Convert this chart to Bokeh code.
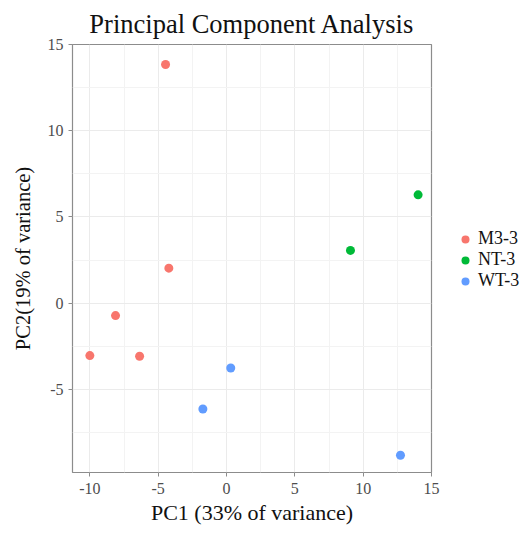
from bokeh.plotting import figure
from bokeh.layouts import row
from bokeh.models import Range1d, FixedTicker, Legend, LegendItem, ColumnDataSource
from bokeh.embed import file_html
from bokeh.resources import INLINE

# ---- data ----
groups = ["M3-3", "NT-3", "WT-3"]
colors = ["#F8766D", "#00BA38", "#619CFF"]
m3_pc1 = [-4.46, -4.22, -8.12, -10.0, -6.36]
m3_pc2 = [13.84, 2.03, -0.72, -3.04, -3.08]
nt_pc1 = [14.02, 9.07]
nt_pc2 = [6.28, 3.06]
wt_pc1 = [0.31, -1.73, 12.73]
wt_pc2 = [-3.76, -6.14, -8.82]
x_ticks = [-10, -5, 0, 5, 10, 15]
x_tick_labels = ["-10", "-5", "0", "5", "10", "15"]
x_minor = [-7.5, -2.5, 2.5, 7.5, 12.5]
y_ticks = [-5, 0, 5, 10, 15]
y_tick_labels = ["-5", "0", "5", "10", "15"]
y_minor = [-7.5, -2.5, 2.5, 7.5, 12.5]
title_text = "Principal Component Analysis"
x_label = "PC1 (33% of variance)"
y_label = "PC2(19% of variance)"

FONT = "Liberation Serif"
MAIN_W = 445
H = 533

p = figure(width=MAIN_W, height=H, output_backend="svg", toolbar_location=None,
           x_range=Range1d(-11.27, 15.0), y_range=Range1d(-9.82, 15.0),
           min_border_left=72, min_border_right=MAIN_W - 431, min_border_top=44,
           min_border_bottom=61, title=title_text)
p.title.text_font = FONT
p.title.text_font_size = "26.5px"
p.title.text_font_style = "normal"
p.title.align = "center"
p.title.text_color = "#111111"
p.title.standoff = 12

p.outline_line_color = "#8c8c8c"
p.outline_line_width = 1.2
p.background_fill_color = "white"
p.border_fill_color = "white"

for ax in (p.xaxis[0], p.yaxis[0]):
    ax.axis_line_color = None
    ax.major_tick_line_color = "#8c8c8c"
    ax.major_tick_out = 4
    ax.major_tick_in = 0
    ax.minor_tick_line_color = None
    ax.major_label_text_font = FONT
    ax.major_label_text_font_size = "16px"
    ax.major_label_text_color = "#4d4d4d"
    ax.axis_label_text_font = FONT
    ax.axis_label_text_font_style = "normal"
    ax.axis_label_text_color = "#111111"

p.xaxis[0].axis_label_text_font_size = "22px"
p.yaxis[0].axis_label_text_font_size = "20.5px"
p.xaxis[0].ticker = FixedTicker(ticks=x_ticks, minor_ticks=x_minor)
p.yaxis[0].ticker = FixedTicker(ticks=y_ticks, minor_ticks=y_minor)
p.xaxis[0].major_label_overrides = {t: s for t, s in zip(x_ticks, x_tick_labels)}
p.yaxis[0].major_label_overrides = {t: s for t, s in zip(y_ticks, y_tick_labels)}
p.xaxis[0].major_label_standoff = 6
p.yaxis[0].major_label_standoff = 5
p.xaxis[0].axis_label_standoff = 3
p.yaxis[0].axis_label_standoff = 11
p.xaxis[0].axis_label = x_label
p.yaxis[0].axis_label = y_label

for g in (p.xgrid[0], p.ygrid[0]):
    g.grid_line_color = "#ebebeb"
    g.grid_line_width = 1
    g.minor_grid_line_color = "#f3f3f3"
    g.minor_grid_line_width = 1

series = [(m3_pc1, m3_pc2), (nt_pc1, nt_pc2), (wt_pc1, wt_pc2)]
for name, col, (xs, ys) in zip(groups, colors, series):
    src = ColumnDataSource(dict(x=xs, y=ys))
    p.scatter("x", "y", source=src, size=9, fill_color=col, line_color=None)

# ---- legend panel (separate figure to the right of the plot; frames are aligned) ----
LEG_W = 527 - MAIN_W
q = figure(width=LEG_W, height=H, output_backend="svg", toolbar_location=None,
           x_range=Range1d(0, 1), y_range=Range1d(0, 1),
           min_border=0, min_border_left=0, min_border_right=0,
           min_border_top=0, min_border_bottom=0)
q.axis.visible = False
q.grid.visible = False
q.outline_line_color = None
q.background_fill_color = "white"
q.border_fill_color = "white"
items = []
for name, col, (xs, ys) in zip(groups, colors, series):
    # same series, but outside this panel's ranges: only the legend glyph shows
    src = ColumnDataSource(dict(x=xs, y=ys))
    r = q.scatter("x", "y", source=src, size=9, fill_color=col, line_color=None)
    items.append(LegendItem(label=name, renderers=[r]))

legend = Legend(items=items, location=(455 - MAIN_W, 472 - 291), orientation="vertical",
                border_line_color=None, background_fill_alpha=0,
                padding=0, margin=0, spacing=0,
                glyph_width=20, glyph_height=20, label_height=20,
                label_standoff=3,
                label_text_font=FONT, label_text_font_size="18px",
                label_text_color="#111111")
q.add_layout(legend, "center")

layout = row(p, q, spacing=0)
open("out.html", "w").write(file_html(layout, INLINE))
